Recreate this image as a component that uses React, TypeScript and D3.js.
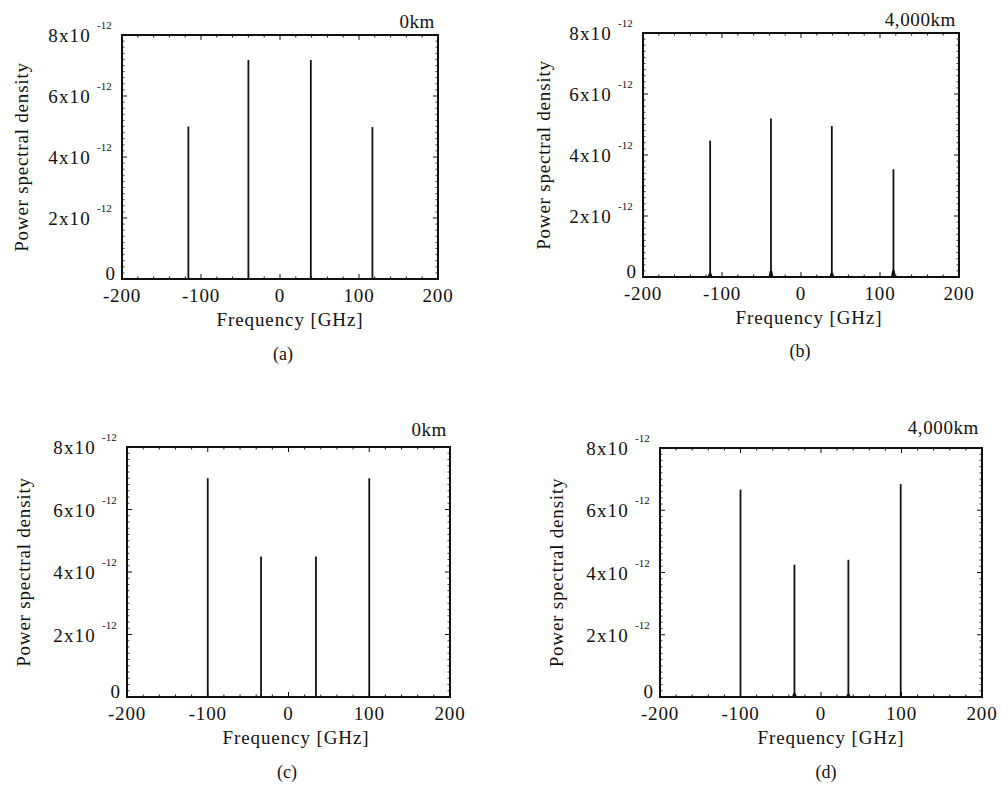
import React from "react";
import * as d3 from "d3";

// Spectral line positions (GHz) and peak PSD (in units of 1e-12) per panel
const freqA = [-116, -40, 39, 117];
const psdA = [5.0, 7.18, 7.18, 4.98];
const pedA = [0, 0, 0, 0];

const freqB = [-115, -38, 39, 117];
const psdB = [4.47, 5.2, 4.95, 3.53];
const pedB = [0.12, 0.2, 0.13, 0.22];

const freqC = [-100, -34, 34, 100];
const psdC = [7.0, 4.5, 4.5, 7.0];
const pedC = [0, 0, 0, 0];

const freqD = [-100, -33, 34, 99];
const psdD = [6.66, 4.25, 4.41, 6.84];
const pedD = [0, 0.12, 0.1, 0];

const xTicks = [-200, -100, 0, 100, 200];
const yTicks = [0, 2, 4, 6, 8];
const yExponent = "-12";

const titles = ["0km", "4,000km", "0km", "4,000km"];
const captions = ["(a)", "(b)", "(c)", "(d)"];
const xLabel = "Frequency [GHz]";
const yLabel = "Power spectral density";

const FONT = "Liberation Serif, Times New Roman, Times, serif";

type Layout = {
  left: number; right: number; top: number; bottom: number;
  titleY: number; xLabelX: number; xLabelY: number; capX: number; capY: number; yLabelX: number;
};

const layouts: Layout[] = [
  { left: 122, right: 438, top: 35, bottom: 279, titleY: 28, xLabelX: 290, xLabelY: 326, capX: 283, capY: 360, yLabelX: 21 },
  { left: 643, right: 959, top: 33, bottom: 277, titleY: 26, xLabelX: 809, xLabelY: 324, capX: 800, capY: 357, yLabelX: 543 },
  { left: 127, right: 450, top: 447, bottom: 697, titleY: 436, xLabelX: 296, xLabelY: 744, capX: 287, capY: 778, yLabelX: 23 },
  { left: 660, right: 982, top: 448, bottom: 697, titleY: 434, xLabelX: 831, xLabelY: 744, capX: 826, capY: 778, yLabelX: 556 },
];

const series = [
  { f: freqA, p: psdA, ped: pedA },
  { f: freqB, p: psdB, ped: pedB },
  { f: freqC, p: psdC, ped: pedC },
  { f: freqD, p: psdD, ped: pedD },
];

function Panel({ L, s, title, caption }: { L: Layout; s: typeof series[0]; title: string; caption: string }) {
  const x = d3.scaleLinear().domain([-200, 200]).range([L.left, L.right]);
  const y = d3.scaleLinear().domain([0, 8]).range([L.bottom, L.top]);

  const xMinor = d3.range(-200, 200.01, 20).filter((v) => !xTicks.includes(v));
  const yMinor = d3.range(0, 8.001, 0.2).filter((v) => !yTicks.some((t) => Math.abs(t - v) < 1e-6));

  const area = d3
    .area<[number, number]>()
    .x((d) => x(d[0]))
    .y0(y(0))
    .y1((d) => y(d[1]));

  const tickLen = 5;
  const minorLen = 2.5;

  return (
    <g style={{ fontFamily: FONT }} fill="#111">
      {/* spectral lines */}
      {s.f.map((f, i) => (
        <g key={i}>
          {s.ped[i] > 0 && (
            <path
              d={area([
                [f - 3, 0],
                [f - 1.6, s.ped[i]],
                [f + 1.6, s.ped[i]],
                [f + 3, 0],
              ]) as string}
              fill="#111"
            />
          )}
          <line x1={x(f)} x2={x(f)} y1={y(0)} y2={y(s.p[i])} stroke="#111" strokeWidth={1.8} />
        </g>
      ))}

      {/* ticks on all four sides, pointing inward */}
      {xTicks.map((t) => (
        <g key={"xt" + t} stroke="#111" strokeWidth={1}>
          <line x1={x(t)} x2={x(t)} y1={L.bottom} y2={L.bottom - tickLen} />
          <line x1={x(t)} x2={x(t)} y1={L.top} y2={L.top + tickLen} />
        </g>
      ))}
      {xMinor.map((t) => (
        <g key={"xm" + t} stroke="#111" strokeWidth={1}>
          <line x1={x(t)} x2={x(t)} y1={L.bottom} y2={L.bottom - minorLen} />
          <line x1={x(t)} x2={x(t)} y1={L.top} y2={L.top + minorLen} />
        </g>
      ))}
      {yTicks.map((t) => (
        <g key={"yt" + t} stroke="#111" strokeWidth={1}>
          <line x1={L.left} x2={L.left + tickLen} y1={y(t)} y2={y(t)} />
          <line x1={L.right} x2={L.right - tickLen} y1={y(t)} y2={y(t)} />
        </g>
      ))}
      {yMinor.map((t, i) => (
        <g key={"ym" + i} stroke="#111" strokeWidth={0.8}>
          <line x1={L.left} x2={L.left + minorLen} y1={y(t)} y2={y(t)} />
          <line x1={L.right} x2={L.right - minorLen} y1={y(t)} y2={y(t)} />
        </g>
      ))}

      {/* frame */}
      <rect
        x={L.left}
        y={L.top}
        width={L.right - L.left}
        height={L.bottom - L.top}
        fill="none"
        stroke="#111"
        strokeWidth={2}
      />

      {/* x tick labels */}
      {xTicks.map((t) => (
        <text key={"xl" + t} x={x(t)} y={L.bottom + 23} textAnchor="middle" fontSize={19} letterSpacing={0.8}>
          {t}
        </text>
      ))}

      {/* y tick labels with exponent */}
      {yTicks.map((t) =>
        t === 0 ? (
          <text key={"yl" + t} x={L.left - 7} y={y(t) + 1} textAnchor="end" fontSize={19}>
            0
          </text>
        ) : (
          <g key={"yl" + t}>
            <text x={L.left - 31} y={y(t) + 7} textAnchor="end" fontSize={19} letterSpacing={1.2}>
              {t}x10
            </text>
            <text x={L.left - 25} y={y(t) - 6} textAnchor="start" fontSize={11}>
              {yExponent}
            </text>
          </g>
        )
      )}

      {/* axis titles */}
      <text x={L.xLabelX} y={L.xLabelY} textAnchor="middle" fontSize={19} letterSpacing={0.9}>
        {xLabel}
      </text>
      <text
        transform={`translate(${L.yLabelX},${(L.top + L.bottom) / 2}) rotate(-90)`}
        textAnchor="middle"
        dominantBaseline="central"
        fontSize={19}
        letterSpacing={0.8}
      >
        {yLabel}
      </text>

      {/* distance label and panel caption */}
      <text x={L.right - 3} y={L.titleY} textAnchor="end" fontSize={19} letterSpacing={0.6}>
        {title}
      </text>
      <text x={L.capX} y={L.capY} textAnchor="middle" fontSize={18}>
        {caption}
      </text>
    </g>
  );
}

export default function App() {
  return (
    <svg
      width={1001}
      height={789}
      style={{ position: "absolute", left: 0, top: 0, background: "#fff" }}
    >
      <rect width={1001} height={789} fill="#fff" />
      {layouts.map((L, i) => (
        <Panel key={i} L={L} s={series[i]} title={titles[i]} caption={captions[i]} />
      ))}
    </svg>
  );
}
